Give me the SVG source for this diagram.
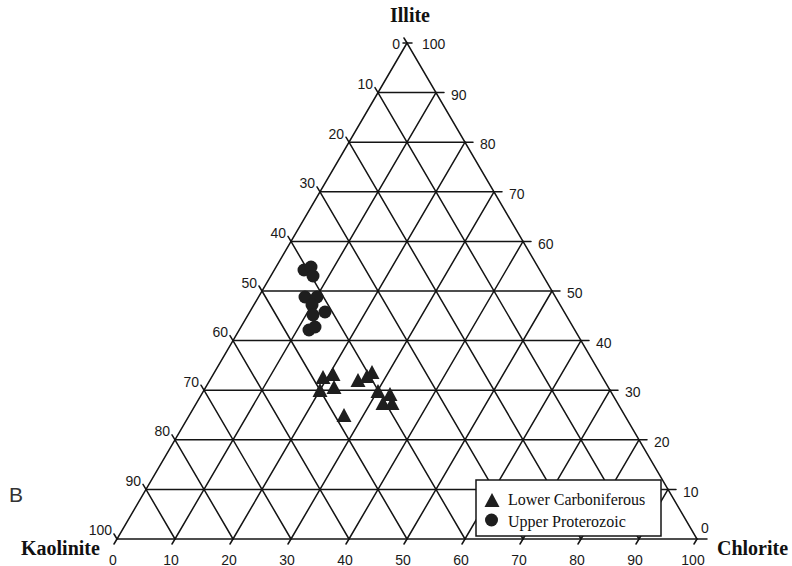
<svg xmlns="http://www.w3.org/2000/svg" width="792" height="566" viewBox="0 0 792 566">
<style>
.g{stroke:#141414;stroke-width:1.5;fill:none;stroke-linecap:round}
.n{font-family:"Liberation Sans",Arial,sans-serif;font-size:14px;fill:#1a1a1a}
.t{font-family:"Liberation Serif","Times New Roman",serif;font-size:20px;font-weight:bold;fill:#111}
.lg{font-family:"Liberation Serif","Times New Roman",serif;font-size:16px;fill:#111}
.m{fill:#1e1e1e}
</style>
<defs>
<polygon id="tri" points="0,-8 7.5,6 -7.5,6"/>
<circle id="dot" r="6.5"/>
</defs>
<rect width="792" height="566" fill="#fff"/>
<g id="grid" class="g">
<polygon points="407,43 117,539 697,539"/>
<path d="M146,489.4H668M175,439.8H639M204,390.2H610M233,340.6H581M262,291H552M291,241.4H523M320,191.8H494M349,142.2H465M378,92.6H436"/>
<path d="M175,539L436,92.6M233,539L465,142.2M291,539L494,191.8M349,539L523,241.4M407,539L552,291M465,539L581,340.6M523,539L610,390.2M581,539L639,439.8M639,539L668,489.4"/>
<path d="M639,539L378,92.6M581,539L349,142.2M523,539L320,191.8M465,539L291,241.4M407,539L262,291M349,539L233,340.6M291,539L204,390.2M233,539L175,439.8M175,539L146,489.4"/>
</g>
<g id="ticks" class="g" stroke-width="1.2">
<path d="M117,539l-3,-5M146,489.4l-3,-5M175,439.8l-3,-5M204,390.2l-3,-5M233,340.6l-3,-5M262,291l-3,-5M291,241.4l-3,-5M320,191.8l-3,-5M349,142.2l-3,-5M378,92.6l-3,-5M407,43l-3,-5"/>
<path d="M697,539h10M668,489.4h8M639,439.8h8M610,390.2h8M581,340.6h8M552,291h8M523,241.4h8M494,191.8h8M465,142.2h8M436,92.6h8M403,43h9"/>
<path d="M117,539l-3,5M175,539l-3,5M233,539l-3,5M291,539l-3,5M349,539l-3,5M407,539l-3,5M465,539l-3,5M523,539l-3,5M581,539l-3,5M639,539l-3,5M697,539l-3,5"/>
</g>
<g id="left-labels" class="n" text-anchor="end">
<text x="400" y="49">0</text>
<text x="373" y="89">10</text>
<text x="344" y="139">20</text>
<text x="315" y="188">30</text>
<text x="286" y="238">40</text>
<text x="257" y="288">50</text>
<text x="228" y="337">60</text>
<text x="199" y="387">70</text>
<text x="170" y="436">80</text>
<text x="141" y="486">90</text>
<text x="112" y="535">100</text>
</g>
<g id="right-labels" class="n">
<text x="422" y="49">100</text>
<text x="451" y="100">90</text>
<text x="480" y="149">80</text>
<text x="509" y="199">70</text>
<text x="538" y="249">60</text>
<text x="567" y="298">50</text>
<text x="596" y="348">40</text>
<text x="625" y="397">30</text>
<text x="654" y="447">20</text>
<text x="683" y="497">10</text>
<text x="701" y="533">0</text>
</g>
<g id="bottom-labels" class="n" text-anchor="middle">
<text x="113" y="565">0</text>
<text x="171" y="565">10</text>
<text x="229" y="565">20</text>
<text x="287" y="565">30</text>
<text x="345" y="565">40</text>
<text x="403" y="565">50</text>
<text x="461" y="565">60</text>
<text x="519" y="565">70</text>
<text x="577" y="565">80</text>
<text x="635" y="565">90</text>
<text x="693" y="565">100</text>
</g>
<g id="titles">
<text class="t" x="410" y="22" text-anchor="middle">Illite</text>
<text class="t" x="21" y="555">Kaolinite</text>
<text class="t" x="717" y="555">Chlorite</text>
<text x="9" y="502" font-family="Liberation Sans,Arial,sans-serif" font-size="21" fill="#333">B</text>
</g>
<g id="upper-proterozoic" class="m">
<use href="#dot" x="304" y="270"/>
<use href="#dot" x="311" y="267"/>
<use href="#dot" x="313" y="276"/>
<use href="#dot" x="305" y="297"/>
<use href="#dot" x="317" y="297"/>
<use href="#dot" x="312" y="305"/>
<use href="#dot" x="313" y="315"/>
<use href="#dot" x="325" y="312"/>
<use href="#dot" x="309" y="330"/>
<use href="#dot" x="315" y="327"/>
</g>
<g id="lower-carboniferous" class="m">
<use href="#tri" x="323" y="378"/>
<use href="#tri" x="333" y="375"/>
<use href="#tri" x="320" y="391"/>
<use href="#tri" x="334" y="388"/>
<use href="#tri" x="358" y="381"/>
<use href="#tri" x="367" y="377"/>
<use href="#tri" x="372" y="373"/>
<use href="#tri" x="378" y="392"/>
<use href="#tri" x="390" y="395"/>
<use href="#tri" x="383" y="404"/>
<use href="#tri" x="392" y="404"/>
<use href="#tri" x="344" y="416"/>
</g>
<g id="legend">
<rect x="476" y="480" width="185" height="56" fill="#fff" stroke="#141414" stroke-width="1.5"/>
<use href="#tri" x="492" y="501" class="m"/>
<use href="#dot" x="491.5" y="520" class="m"/>
<text class="lg" x="508" y="505">Lower Carboniferous</text>
<text class="lg" x="508" y="527">Upper Proterozoic</text>
</g>
</svg>
